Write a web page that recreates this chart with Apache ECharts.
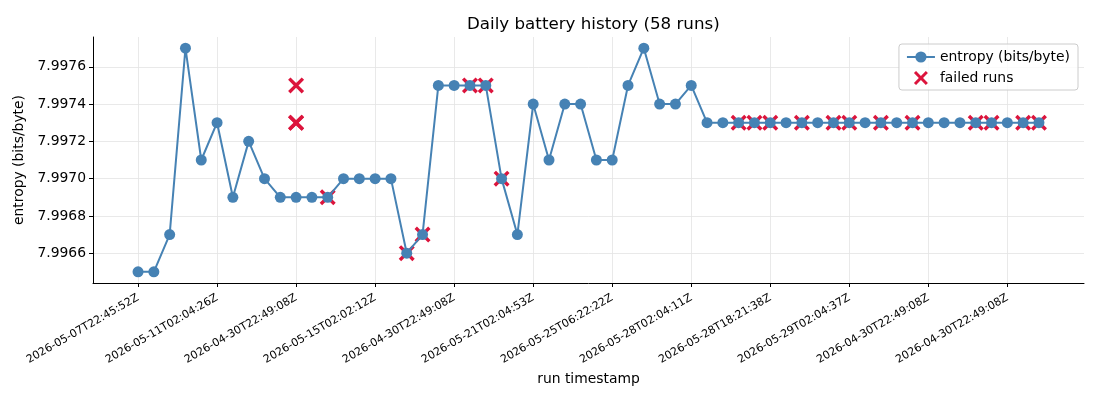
<!DOCTYPE html>
<html>
<head>
<meta charset="utf-8">
<script src="https://cdn.jsdelivr.net/npm/echarts@6/dist/echarts.min.js"></script>
<style>
html,body{margin:0;padding:0;background:#fff;}
#chart{width:1100px;height:400px;}
</style>
</head>
<body>
<div id="chart"></div>
<script>
// ---- data ----
var tickLabels = [
  '2026-05-07T22:45:52Z','2026-05-11T02:04:26Z','2026-04-30T22:49:08Z','2026-05-15T02:02:12Z',
  '2026-04-30T22:49:08Z','2026-05-21T02:04:53Z','2026-05-25T06:22:22Z','2026-05-28T02:04:11Z',
  '2026-05-28T18:21:38Z','2026-05-29T02:04:37Z','2026-04-30T22:49:08Z','2026-04-30T22:49:08Z'
];
var tickPositions = [0,5,10,15,20,25,30,35,40,45,50,55];
var entropy = [
  7.9965, 7.9965, 7.9967, 7.9977, 7.9971, 7.9973, 7.9969, 7.9972, 7.9970, 7.9969,
  7.9969, 7.9969, 7.9969, 7.9970, 7.9970, 7.9970, 7.9970, 7.9966, 7.9967, 7.9975,
  7.9975, 7.9975, 7.9975, 7.9970, 7.9967, 7.9974, 7.9971, 7.9974, 7.9974, 7.9971,
  7.9971, 7.9975, 7.9977, 7.9974, 7.9974, 7.9975, 7.9973, 7.9973, 7.9973, 7.9973,
  7.9973, 7.9973, 7.9973, 7.9973, 7.9973, 7.9973, 7.9973, 7.9973, 7.9973, 7.9973,
  7.9973, 7.9973, 7.9973, 7.9973, 7.9973, 7.9973, 7.9973, 7.9973
];
var failedX = [10, 10, 10, 12, 17, 18, 21, 22, 23, 38, 39, 40, 42, 44, 45, 47, 49, 53, 54, 56, 57];
var failedY = [7.9975, 7.9973, 7.9973, 7.9969, 7.9966, 7.9967, 7.9975, 7.9975, 7.9970,
  7.9973, 7.9973, 7.9973, 7.9973, 7.9973, 7.9973, 7.9973, 7.9973, 7.9973, 7.9973, 7.9973, 7.9973];
var yTicks = [7.9966, 7.9968, 7.9970, 7.9972, 7.9974, 7.9976];

// ---- build ----
var lineData = entropy.map(function(v, i){ return [i, v]; });
var failedData = failedX.map(function(x, i){ return [x, failedY[i]]; });
var xSymbol = 'path://M0,3 L3,0 L10,7 L17,0 L20,3 L13,10 L20,17 L17,20 L10,13 L3,20 L0,17 L7,10 Z';
var FONT = 'DejaVu Sans';
var n = entropy.length;
var pad = (n - 1) * 0.05;

var chart = echarts.init(document.getElementById('chart'), null, {renderer: 'canvas'});
chart.setOption({
  animation: false,
  backgroundColor: '#ffffff',
  textStyle: {fontFamily: FONT},
  title: {
    text: 'Daily battery history (58 runs)',
    left: 462, top: 11,
    textStyle: {fontFamily: FONT, fontSize: 16.7, fontWeight: 'normal', color: '#000'}
  },
  legend: {
    orient: 'vertical', right: 22, top: 44,
    backgroundColor: 'rgba(255,255,255,0.8)',
    borderColor: '#cccccc', borderWidth: 1, borderRadius: 3,
    padding: [6, 8, 5, 7],
    itemGap: 7, itemWidth: 28, itemHeight: 14,
    textStyle: {fontFamily: FONT, fontSize: 13.9, color: '#000'},
    data: [
      {name: 'entropy (bits/byte)'},
      {name: 'failed runs', icon: xSymbol}
    ]
  },
  grid: {left: 93, right: 16, top: 37, bottom: 117},
  xAxis: {
    type: 'value',
    min: -pad, max: n - 1 + pad,
    name: 'run timestamp', nameLocation: 'middle', nameGap: 88,
    nameTextStyle: {fontFamily: FONT, fontSize: 13.9, color: '#000'},
    axisLine: {show: true, onZero: false, lineStyle: {color: '#000', width: 1}},
    axisTick: {show: true, length: 4, lineStyle: {color: '#000'}, customValues: tickPositions},
    axisLabel: {
      customValues: tickPositions, rotate: 30, fontSize: 11, color: '#000', margin: 14,
      fontFamily: FONT,
      formatter: function(v){ var k = tickPositions.indexOf(Math.round(v)); return k >= 0 ? tickLabels[k] : ''; }
    },
    splitLine: {show: true, lineStyle: {color: '#e3e3e3', width: 0.8}}
  },
  yAxis: {
    type: 'value',
    min: 7.99644, max: 7.99776,
    name: 'entropy (bits/byte)', nameLocation: 'middle', nameGap: 64,
    nameTextStyle: {fontFamily: FONT, fontSize: 13.9, color: '#000'},
    axisLine: {show: true, onZero: false, lineStyle: {color: '#000', width: 1}},
    axisTick: {show: true, length: 4, lineStyle: {color: '#000'}, customValues: yTicks},
    axisLabel: {
      customValues: yTicks, fontSize: 13.9, color: '#000', margin: 7, fontFamily: FONT,
      formatter: function(v){ return v.toFixed(4); }
    },
    splitLine: {show: true, lineStyle: {color: '#e3e3e3', width: 0.8}}
  },
  series: [
    {
      name: 'entropy (bits/byte)', type: 'line', data: lineData, z: 3,
      symbol: 'circle', symbolSize: 11, showAllSymbol: true,
      lineStyle: {color: '#4682b4', width: 2},
      itemStyle: {color: '#4682b4', borderWidth: 0}
    },
    {
      name: 'failed runs', type: 'scatter', data: failedData, z: 2,
      symbol: xSymbol, symbolSize: 16,
      itemStyle: {color: '#dc143c', opacity: 1}
    }
  ]
});
</script>
</body>
</html>
